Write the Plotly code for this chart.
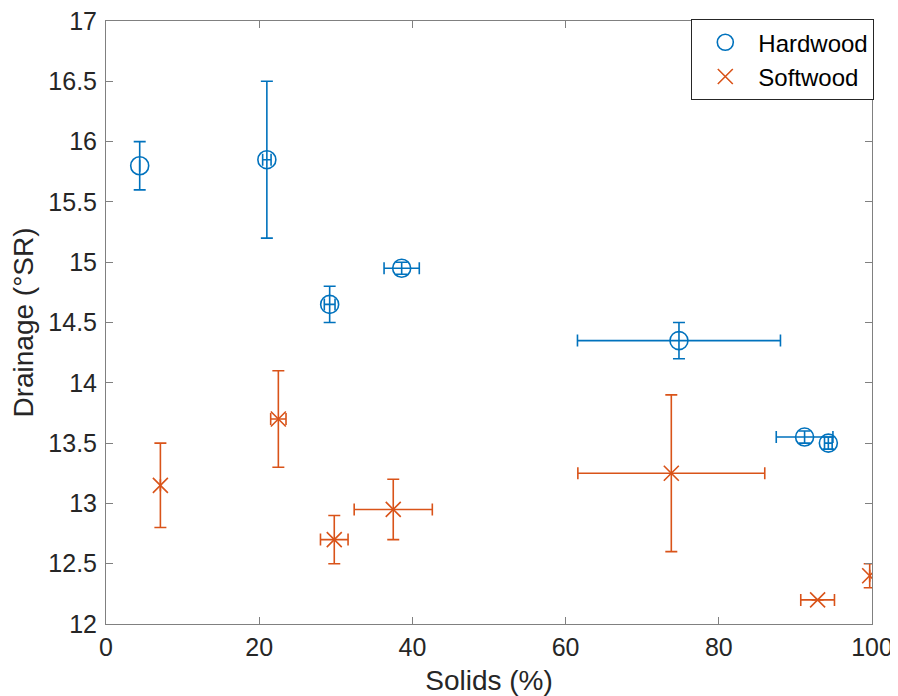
import plotly.graph_objects as go

hw_x = [4.4, 21.0, 29.2, 38.6, 74.8, 91.2, 94.3]
hw_y = [15.8, 15.85, 14.65, 14.95, 14.35, 13.55, 13.5]
hw_xerr = [0.0, 0.55, 0.7, 2.3, 13.25, 3.7, 0.5]
hw_yerr = [0.2, 0.65, 0.15, 0.05, 0.15, 0.05, 0.05]

sw_x = [7.1, 22.5, 29.8, 37.5, 73.8, 92.9, 99.7]
sw_y = [13.15, 13.7, 12.7, 12.95, 13.25, 12.2, 12.4]
sw_xerr = [0.0, 1.0, 1.8, 5.1, 12.2, 2.2, 0.0]
sw_yerr = [0.35, 0.4, 0.2, 0.25, 0.65, 0.0, 0.1]

blue = "#0072BD"
orange = "#D95319"
FONT = "Liberation Sans, Arial, Helvetica"

fig = go.Figure()
fig.add_trace(go.Scatter(
    x=hw_x, y=hw_y, mode="markers", name="Hardwood",
    marker=dict(symbol="circle-open", size=18, color=blue, line=dict(width=1.6)),
    error_x=dict(type="data", array=hw_xerr, color=blue, thickness=1.6, width=6),
    error_y=dict(type="data", array=hw_yerr, color=blue, thickness=1.6, width=6),
))
fig.add_trace(go.Scatter(
    x=sw_x, y=sw_y, mode="markers", name="Softwood",
    marker=dict(symbol="x-thin-open", size=15, color=orange, line=dict(width=1.6, color=orange)),
    error_x=dict(type="data", array=sw_xerr, color=orange, thickness=1.6, width=6),
    error_y=dict(type="data", array=sw_yerr, color=orange, thickness=1.6, width=6),
))

axis_common = dict(
    showgrid=False, zeroline=False, showline=True, linecolor="#808080", linewidth=1,
    mirror="ticks", ticks="inside", ticklen=7, tickcolor="#808080",
    automargin=False, ticklabeloverflow="allow",
    tickfont=dict(family=FONT, size=25, color="#262626"),
)
fig.update_xaxes(range=[0, 100], dtick=20, tick0=0, ticklabelstandoff=1,
                 title=dict(text="Solids (%)", font=dict(family=FONT, size=28, color="#262626"), standoff=10),
                 **axis_common)
fig.update_yaxes(range=[12, 17], dtick=0.5, tick0=12, ticklabelstandoff=3,
                 title=dict(text="Drainage (°SR)", font=dict(family=FONT, size=28, color="#262626"), standoff=8),
                 **axis_common)

# page body has an 8px margin, so the figure is shrunk by 8px on each axis
fig.update_layout(
    width=890, height=688,
    margin=dict(l=98, r=26, t=13, b=72, autoexpand=False),
    plot_bgcolor="white", paper_bgcolor="white",
    showlegend=True,
    legend=dict(x=1.003, y=1.003, xanchor="right", yanchor="top",
                bordercolor="#262626", borderwidth=1, bgcolor="white",
                font=dict(family=FONT, size=24, color="#000000"),
                itemwidth=56, tracegroupgap=0),
)

fig.write_html("out.html")
